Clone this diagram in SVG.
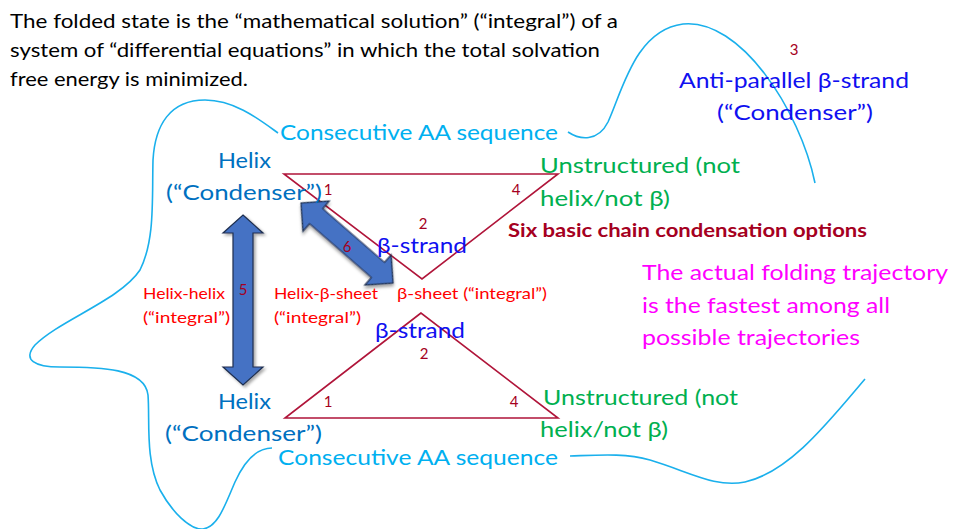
<svg xmlns="http://www.w3.org/2000/svg" width="953" height="529" viewBox="0 0 953 529">
<style>
text{font-family:Lato,"Open Sans","Liberation Sans",sans-serif;}
.t{font-size:20px;fill:#000;}
.hx{font-size:22px;fill:#0070C0;}
.bl{font-size:22px;fill:#1010F0;}
.cy{font-size:22px;fill:#00B0F0;}
.gr{font-size:22px;fill:#00B050;}
.rd{font-size:16px;fill:#FF0000;}
.mg{font-size:22px;fill:#FF00FF;}
.num{font-size:15px;fill:#A50021;text-anchor:middle;}
.six{font-size:18px;font-weight:bold;fill:#A50021;}
.curve{fill:none;stroke:#1AB0EC;stroke-width:1.6;}
.tri{fill:none;stroke:#B0153A;stroke-width:1.6;stroke-linejoin:miter;}
.arr{fill:#4472C4;stroke:#1F2F4F;stroke-width:1.2;filter:url(#sh);}
</style>
<defs>
<filter id="sh" x="-20%" y="-20%" width="140%" height="140%">
<feDropShadow dx="2" dy="2" stdDeviation="1.5" flood-color="#000" flood-opacity="0.35"/>
</filter>
</defs>
<rect width="953" height="529" fill="#fff"/>

<g id="intro">
<text class="t" x="10" y="28" textLength="608" lengthAdjust="spacingAndGlyphs">The folded state is the “mathematical solution” (“integral”) of a</text>
<text class="t" x="10" y="57" textLength="590" lengthAdjust="spacingAndGlyphs">system of “differential equations” in which the total solvation</text>
<text class="t" x="10" y="86" textLength="238" lengthAdjust="spacingAndGlyphs">free energy is minimized.</text>
</g>

<g id="outline">
<path class="curve" d="M278,133 C260,120 235,100 205,100 C170,100 155,125 153,160 C152,200 155,240 140,270 C120,300 60,320 35,345 C22,360 35,367 60,367 C100,367 145,368 148,395 C150,420 145,460 160,490 C172,512 190,530 203,529 C218,527 225,505 235,482 C245,460 258,448 272,448"/>
<path class="curve" d="M568,132 C580,140 598,142 608,122 C622,92 635,30 683,24 C740,18 800,110 815,183"/>
<path class="curve" d="M570,456 C600,455 625,453 650,460 C690,472 715,488 745,482 C790,472 830,420 865,379"/>
</g>

<g id="connectors">
<polygon class="tri" points="284,174 558,174 422,279"/>
<polygon class="tri" points="421,313 285,418 558,418"/>
<polygon class="arr" points="243,215 263,233 253,233 253,367 263,367 243,385 223,367 233,367 233,233 223,233"/>
<polygon class="arr" transform="translate(301,203) rotate(41)" points="0,0 20,-20 20,-10 102,-10 102,-20 122,0 102,20 102,10 20,10 20,20"/>
</g>

<g id="numbers">
<text class="num" x="328" y="195">1</text>
<text class="num" x="516" y="195">4</text>
<text class="num" x="423" y="229">2</text>
<text class="num" x="347" y="252">6</text>
<text class="num" x="243" y="295">5</text>
<text class="num" x="794" y="55">3</text>
<text class="num" x="424" y="359">2</text>
<text class="num" x="328" y="407">1</text>
<text class="num" x="514" y="407">4</text>
</g>

<g id="helix-top">
<text class="hx" x="218" y="168" textLength="53" lengthAdjust="spacingAndGlyphs">Helix</text>
<text class="hx" x="166" y="200" textLength="156" lengthAdjust="spacingAndGlyphs">(“Condenser”)</text>
</g>
<g id="helix-bottom">
<text class="hx" x="218" y="409" textLength="53" lengthAdjust="spacingAndGlyphs">Helix</text>
<text class="hx" x="165" y="441" textLength="157" lengthAdjust="spacingAndGlyphs">(“Condenser”)</text>
</g>
<g id="seq-top">
<text class="cy" x="280" y="140" textLength="278" lengthAdjust="spacingAndGlyphs">Consecutive AA sequence</text>
</g>
<g id="seq-bottom">
<text class="cy" x="278" y="465" textLength="280" lengthAdjust="spacingAndGlyphs">Consecutive AA sequence</text>
</g>
<g id="unstructured-top">
<text class="gr" x="540" y="173" textLength="200" lengthAdjust="spacingAndGlyphs">Unstructured (not</text>
<text class="gr" x="540" y="206" textLength="130" lengthAdjust="spacingAndGlyphs">helix/not β)</text>
</g>
<g id="unstructured-bottom">
<text class="gr" x="543" y="405" textLength="195" lengthAdjust="spacingAndGlyphs">Unstructured (not</text>
<text class="gr" x="540" y="437" textLength="128" lengthAdjust="spacingAndGlyphs">helix/not β)</text>
</g>
<g id="six-options">
<text class="six" x="508" y="237" textLength="359" lengthAdjust="spacingAndGlyphs">Six basic chain condensation options</text>
</g>
<g id="strand-top">
<text class="bl" x="377" y="253" textLength="90" lengthAdjust="spacingAndGlyphs">β-strand</text>
</g>
<g id="strand-bottom">
<text class="bl" x="375" y="338" textLength="90" lengthAdjust="spacingAndGlyphs">β-strand</text>
</g>
<g id="sheet">
<text class="rd" x="397" y="299" textLength="150" lengthAdjust="spacingAndGlyphs">β-sheet (“integral”)</text>
</g>
<g id="helix-sheet">
<text class="rd" x="274" y="299" textLength="104" lengthAdjust="spacingAndGlyphs">Helix-β-sheet</text>
<text class="rd" x="274" y="323" textLength="87" lengthAdjust="spacingAndGlyphs">(“integral”)</text>
</g>
<g id="helix-helix">
<text class="rd" x="143" y="299" textLength="82" lengthAdjust="spacingAndGlyphs">Helix-helix</text>
<text class="rd" x="143" y="323" textLength="87" lengthAdjust="spacingAndGlyphs">(“integral”)</text>
</g>
<g id="antiparallel">
<text class="bl" x="679" y="88" textLength="230" lengthAdjust="spacingAndGlyphs">Anti-parallel β-strand</text>
<text class="bl" x="717" y="120" textLength="156" lengthAdjust="spacingAndGlyphs">(“Condenser”)</text>
</g>
<g id="trajectory">
<text class="mg" x="642" y="280" textLength="306" lengthAdjust="spacingAndGlyphs">The actual folding trajectory</text>
<text class="mg" x="642" y="313" textLength="248" lengthAdjust="spacingAndGlyphs">is the fastest among all</text>
<text class="mg" x="642" y="345" textLength="218" lengthAdjust="spacingAndGlyphs">possible trajectories</text>
</g>
</svg>
